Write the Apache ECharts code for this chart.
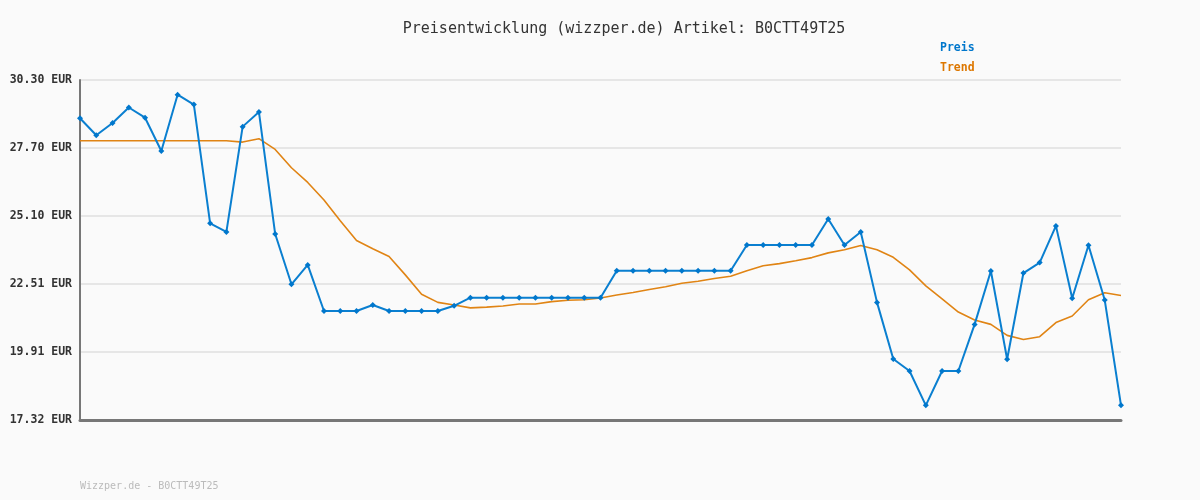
<!DOCTYPE html>
<html>
<head>
<meta charset="utf-8">
<script src="https://cdn.jsdelivr.net/npm/echarts@6/dist/echarts.min.js"></script>
<style>html,body{margin:0;padding:0;background:#fafafa}#c{width:1200px;height:500px}</style>
</head>
<body>
<div id="c"></div>
<script>
const categories = Array.from({length: 65}, (_, i) => String(i + 1));
const preis = [28.84, 28.19, 28.66, 29.25, 28.86, 27.59, 29.74, 29.36, 24.83, 24.50,
  28.52, 29.08, 24.42, 22.50, 23.24, 21.48, 21.48, 21.48, 21.71, 21.48,
  21.48, 21.48, 21.48, 21.68, 21.99, 21.99, 21.99, 21.99, 21.99, 21.99,
  21.99, 21.99, 21.99, 23.02, 23.02, 23.02, 23.02, 23.02, 23.02, 23.02,
  23.02, 24.00, 24.00, 24.00, 24.00, 24.00, 24.99, 24.00, 24.50, 21.81,
  19.65, 19.19, 17.88, 19.19, 19.19, 20.97, 23.01, 19.64, 22.93, 23.33,
  24.73, 21.97, 23.99, 21.90, 17.88];
const trend = [27.98, 27.98, 27.98, 27.98, 27.98, 27.98, 27.98, 27.98, 27.98, 27.98,
  27.93, 28.06, 27.65, 26.95, 26.39, 25.72, 24.93, 24.17, 23.86, 23.56,
  22.86, 22.12, 21.81, 21.71, 21.60, 21.63, 21.67, 21.75, 21.75, 21.84,
  21.89, 21.91, 21.98, 22.09, 22.19, 22.30, 22.41, 22.54, 22.62, 22.72,
  22.81, 23.02, 23.21, 23.29, 23.40, 23.52, 23.70, 23.82, 23.98, 23.82,
  23.53, 23.05, 22.44, 21.94, 21.44, 21.14, 20.97, 20.55, 20.39, 20.50,
  21.04, 21.29, 21.91, 22.18, 22.07];
const yTickLabels = ['17.32 EUR', '19.91 EUR', '22.51 EUR', '25.10 EUR', '27.70 EUR', '30.30 EUR'];
const yMin = 17.32, yMax = 30.30;
const yStep = (yMax - yMin) / 5;

const chart = echarts.init(document.getElementById('c'), null, {renderer: 'canvas'});
chart.setOption({
  backgroundColor: '#fafafa',
  animation: false,
  title: {
    text: 'Preisentwicklung (wizzper.de) Artikel: B0CTT49T25',
    left: 619, top: 17, textAlign: 'center',
    textStyle: {fontFamily: 'DejaVu Sans Mono', fontSize: 15, fontWeight: 'normal', color: '#333'}
  },
  legend: {
    orient: 'vertical', left: 930, top: 37, itemGap: 8,
    itemWidth: 0, itemHeight: 0, icon: 'rect',
    selectedMode: false,
    data: [
      {name: 'Preis', textStyle: {color: '#0077cc'}},
      {name: 'Trend', textStyle: {color: '#dd7700'}}
    ],
    textStyle: {fontFamily: 'DejaVu Sans Mono', fontSize: 11.5, fontWeight: 'bold'}
  },
  graphic: [{
    type: 'text', left: 80, top: 481,
    style: {text: 'Wizzper.de - B0CTT49T25', fill: '#bbbbbb', font: '10px "DejaVu Sans Mono"'}
  }],
  grid: {left: 80, right: 79, top: 80, bottom: 80, containLabel: false},
  xAxis: {
    type: 'category', data: categories, boundaryGap: false,
    axisLine: {show: true, lineStyle: {color: '#777', width: 3}},
    axisTick: {show: false}, axisLabel: {show: false}, splitLine: {show: false}
  },
  yAxis: {
    type: 'value', min: yMin, max: yMax, interval: yStep,
    axisLine: {show: true, lineStyle: {color: '#777', width: 2}},
    axisTick: {show: false},
    axisLabel: {
      margin: 8, color: '#333', fontFamily: 'DejaVu Sans Mono', fontSize: 11.5, fontWeight: 'bold',
      formatter: v => yTickLabels[Math.round((v - yMin) / yStep)] || ''
    },
    splitLine: {show: true, lineStyle: {color: '#e6e6e6', width: 2}}
  },
  series: [
    {
      name: 'Preis', type: 'line', data: preis,
      symbol: 'diamond', symbolSize: 6, showSymbol: true,
      itemStyle: {color: '#0077cc'},
      lineStyle: {color: '#0a7fd0', width: 2}, z: 3
    },
    {
      name: 'Trend', type: 'line', data: trend,
      symbol: 'none',
      itemStyle: {color: '#dd7700'},
      lineStyle: {color: '#e08414', width: 1.6}, z: 2
    }
  ]
});
</script>
</body>
</html>
